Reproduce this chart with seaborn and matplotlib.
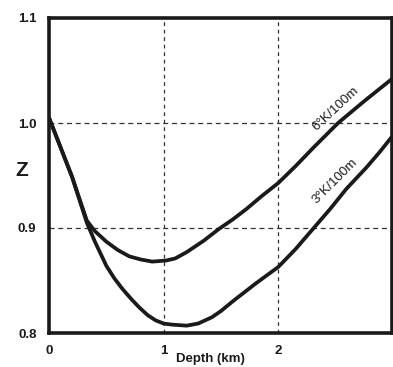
import matplotlib
matplotlib.use("Agg")
import matplotlib.pyplot as plt
import seaborn as sns
import pandas as pd

# Data
depth_6k = [0.0, 0.1, 0.2, 0.33, 0.4, 0.5, 0.6, 0.7, 0.8, 0.9, 1.02, 1.1, 1.2, 1.35,
            1.48, 1.6, 1.72, 1.85, 2.0, 2.15, 2.3, 2.52, 2.75, 2.99]
z_6k = [1.005, 0.977, 0.949, 0.907, 0.897, 0.887, 0.879, 0.873, 0.870, 0.868, 0.869,
        0.871, 0.877, 0.888, 0.899, 0.908, 0.918, 0.930, 0.943, 0.959, 0.976, 1.0,
        1.021, 1.042]

depth_3k = [0.0, 0.1, 0.2, 0.33, 0.4, 0.5, 0.57, 0.64, 0.72, 0.79, 0.86, 0.93, 1.0,
            1.07, 1.2, 1.3, 1.42, 1.5, 1.6, 1.8, 2.0, 2.15, 2.3, 2.45, 2.59, 2.77,
            2.88, 2.99]
z_3k = [1.005, 0.977, 0.949, 0.905, 0.887, 0.864, 0.852, 0.842, 0.832, 0.824, 0.817,
        0.812, 0.809, 0.808, 0.807, 0.809, 0.815, 0.821, 0.830, 0.847, 0.863, 0.880,
        0.899, 0.918, 0.937, 0.958, 0.972, 0.987]

x_ticks = [0, 1, 2]
y_ticks = [0.8, 0.9, 1.0, 1.1]
y_tick_labels = ["0.8", "0.9", "1.0", "1.1"]
label_6k = "6°K/100m"
label_3k = "3°K/100m"

df = pd.concat([
    pd.DataFrame({"depth": depth_6k, "z": z_6k, "grad": label_6k}),
    pd.DataFrame({"depth": depth_3k, "z": z_3k, "grad": label_3k}),
])

sns.set_theme(style="white")
plt.rcParams["font.family"] = ["Liberation Sans", "DejaVu Sans"]

fig = plt.figure(figsize=(3.93, 3.67), dpi=100)
ax = fig.add_axes([49 / 393, 1 - 333 / 367, (392 - 49) / 393, (333 - 18) / 367])

sns.lineplot(data=df, x="depth", y="z", units="grad", estimator=None, sort=False,
             color="#1a1a1a", linewidth=2.7, ax=ax, legend=False)
for ln in ax.get_lines():
    ln.set_solid_joinstyle("round")
    ln.set_solid_capstyle("round")

ax.set_xlim(0, 2.99)
ax.set_ylim(0.8, 1.1)

for v in [1, 2]:
    ax.axvline(v, color="#333333", linestyle=(0, (3, 3)), linewidth=0.9, zorder=0)
for v in [0.9, 1.0]:
    ax.axhline(v, color="#333333", linestyle=(0, (4, 3)), linewidth=0.9, zorder=0)

for s in ax.spines.values():
    s.set_visible(True)
    s.set_linewidth(2.6)
    s.set_color("#1a1a1a")

ax.set_xticks(x_ticks)
ax.set_xticklabels([str(t) for t in x_ticks], fontweight="bold", fontsize=9.5)
ax.set_yticks(y_ticks)
ax.set_yticklabels(y_tick_labels, fontweight="bold", fontsize=9.5)
ax.tick_params(axis="both", length=0, pad=9, colors="#1a1a1a")
ax.get_xticklabels()[0].set_x(0.025)

ax.set_xlabel("Depth (km)", fontweight="bold", fontsize=9.5, color="#1a1a1a")
ax.xaxis.set_label_coords(0.47, -0.065)
ax.set_ylabel("Z", fontweight="bold", fontsize=15, rotation=0, color="#1a1a1a",
              va="center", ha="center")
ax.yaxis.set_label_coords(-0.08, 0.517)

ax.text(2.50, 1.013, label_6k, rotation=43, fontsize=9.5, ha="center", va="center",
        color="#1a1a1a")
ax.text(2.49, 0.945, label_3k, rotation=45, fontsize=9.5, ha="center", va="center",
        color="#1a1a1a")

fig.savefig("out.png", dpi=100)
